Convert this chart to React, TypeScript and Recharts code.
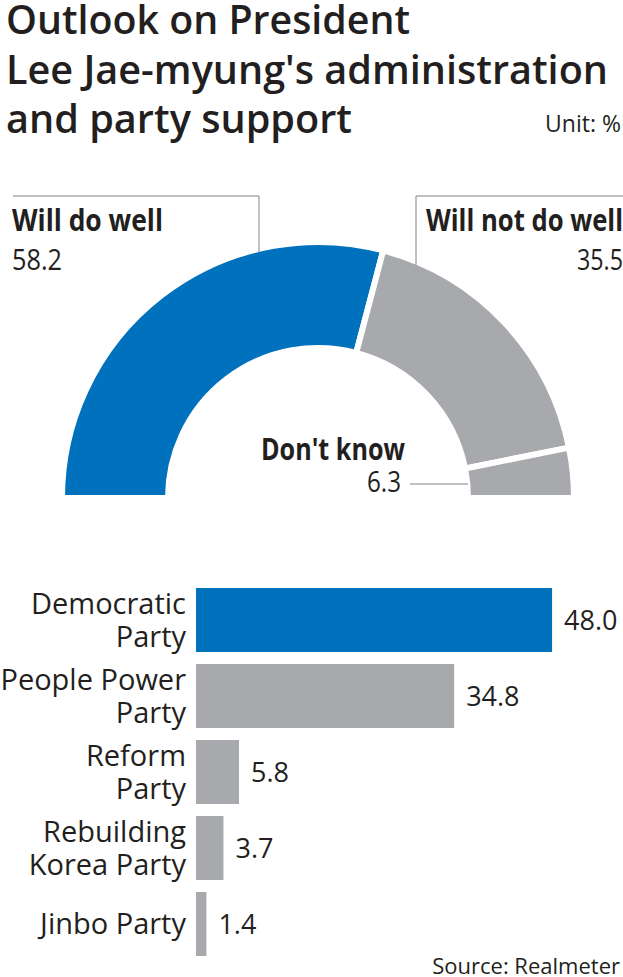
import { PieChart, Pie, Cell, BarChart, Bar, XAxis, YAxis, LabelList } from 'recharts'

const titleLines = ['Outlook on President', "Lee Jae-myung's administration", 'and party support']
const outlookLabels = ['Will do well', 'Will not do well', "Don't know"]
const outlookValues = [58.2, 35.5, 6.3]
const partyNames = ['Democratic\nParty', 'People Power\nParty', 'Reform\nParty', 'Rebuilding\nKorea Party', 'Jinbo Party']
const partyValues = [48.0, 34.8, 5.8, 3.7, 1.4]

const BLUE = '#0071bc'
const GRAY = '#a7a9ac'
const INK = '#231f20'
const RULE = '#808285'
const FONT = "'Open Sans', sans-serif"

const outlookData = outlookLabels.map((name, i) => ({ name, value: outlookValues[i] }))
const partyData = partyNames.map((name, i) => ({ name, value: partyValues[i] }))

const PIE_STROKE = 6

// arc height at a horizontal offset from the centre, so leader lines touch the ring
function arcY(cy: number, r: number, dx: number) {
  return cy - Math.sqrt(r * r - dx * dx)
}

function OutlookLabel(props: any) {
  const { cx, cy, outerRadius, index, name, value } = props
  const r = outerRadius - PIE_STROKE / 2
  const num = Number(value).toFixed(1)
  if (index === 0) {
    const lx = cx - 59
    return (
      <g>
        <polyline
          points={`${lx},${arcY(cy, r, 59)} ${lx},${cy - 302} ${cx - 305},${cy - 302}`}
          fill="none"
          stroke={RULE}
          strokeWidth={1}
        />
        <text x={cx - 306} y={cy - 267} fill={INK} fontFamily={FONT} fontWeight={700} fontSize={31}
          textLength={151} lengthAdjust="spacingAndGlyphs">{name}</text>
        <text x={cx - 306} y={cy - 228} fill={INK} fontFamily={FONT} fontSize={29}
          textLength={50} lengthAdjust="spacingAndGlyphs">{num}</text>
      </g>
    )
  }
  if (index === 1) {
    const lx = cx + 98
    return (
      <g>
        <polyline
          points={`${lx},${arcY(cy, r, 98)} ${lx},${cy - 302} ${cx + 310},${cy - 302}`}
          fill="none"
          stroke={RULE}
          strokeWidth={1}
        />
        <text x={cx + 305} y={cy - 267} textAnchor="end" fill={INK} fontFamily={FONT} fontWeight={700}
          fontSize={31} textLength={197} lengthAdjust="spacingAndGlyphs">{name}</text>
        <text x={cx + 305} y={cy - 228} textAnchor="end" fill={INK} fontFamily={FONT} fontSize={29}
          textLength={46} lengthAdjust="spacingAndGlyphs">{num}</text>
      </g>
    )
  }
  return (
    <g>
      <line x1={cx + 92} y1={cy - 14} x2={cx + 150} y2={cy - 14} stroke={RULE} strokeWidth={1} />
      <text x={cx + 87} y={cy - 38} textAnchor="end" fill={INK} fontFamily={FONT} fontWeight={700}
        fontSize={31} textLength={144} lengthAdjust="spacingAndGlyphs">{name}</text>
      <text x={cx + 83} y={cy - 6} textAnchor="end" fill={INK} fontFamily={FONT} fontSize={29}
        textLength={34} lengthAdjust="spacingAndGlyphs">{num}</text>
    </g>
  )
}

function PartyTick({ x, y, payload }: any) {
  const lines = String(payload.value).split('\n')
  const lineH = 33
  const first = y - ((lines.length - 1) * lineH) / 2 + 10
  return (
    <text x={x} y={first} textAnchor="end" fill={INK} fontFamily={FONT} fontSize={29}>
      {lines.map((l, i) => (
        <tspan key={i} x={x} dy={i === 0 ? 0 : lineH}>
          {l}
        </tspan>
      ))}
    </text>
  )
}

export default function App() {
  return (
    <div style={{ position: 'absolute', left: 0, top: 0, width: 623, height: 977, background: '#fff', fontFamily: FONT }}>
      <svg width={623} height={160} style={{ position: 'absolute', left: 0, top: 0 }}>
        {titleLines.map((t, i) => (
          <text key={t} x={6} y={34 + i * 49.5} fill={INK} fontFamily={FONT} fontWeight={600} fontSize={39}
            textLength={[404, 602, 346][i]} lengthAdjust="spacingAndGlyphs">{t}</text>
        ))}
        <text x={621} y={132} textAnchor="end" fill={INK} fontFamily={FONT} fontSize={23}>Unit: %</text>
      </svg>

      <div style={{ position: 'absolute', left: 0, top: 0 }}>
        <PieChart width={623} height={510}>
          <Pie
            data={outlookData}
            dataKey="value"
            nameKey="name"
            cx={313}
            cy={493}
            startAngle={180}
            endAngle={0}
            innerRadius={150}
            outerRadius={256}
            stroke="#fff"
            strokeWidth={PIE_STROKE}
            label={OutlookLabel}
            labelLine={false}
            isAnimationActive={false}
          >
            {outlookData.map((d, i) => (
              <Cell key={d.name} fill={i === 0 ? BLUE : GRAY} />
            ))}
          </Pie>
        </PieChart>
      </div>

      <div style={{ position: 'absolute', left: 0, top: 560 }}>
        <BarChart
          width={623}
          height={417}
          data={partyData}
          layout="vertical"
          margin={{ top: 22, right: 19, bottom: 15, left: 0 }}
        >
          <XAxis type="number" domain={[0, 55]} hide />
          <YAxis
            type="category"
            dataKey="name"
            width={196}
            axisLine={false}
            tickLine={false}
            tickSize={0}
            tickMargin={10}
            interval={0}
            tick={<PartyTick />}
          />
          <Bar dataKey="value" barSize={64} isAnimationActive={false}>
            {partyData.map((d, i) => (
              <Cell key={d.name} fill={i === 0 ? BLUE : GRAY} />
            ))}
            <LabelList
              dataKey="value"
              position="right"
              offset={12}
              fill={INK}
              fontFamily={FONT}
              fontSize={27}
              formatter={(v: any) => Number(v).toFixed(1)}
            />
          </Bar>
        </BarChart>
      </div>

      <svg width={623} height={30} style={{ position: 'absolute', left: 0, top: 950 }}>
        <text x={620} y={24} textAnchor="end" fill={INK} fontFamily={FONT} fontSize={22}>Source: Realmeter</text>
      </svg>
    </div>
  )
}
